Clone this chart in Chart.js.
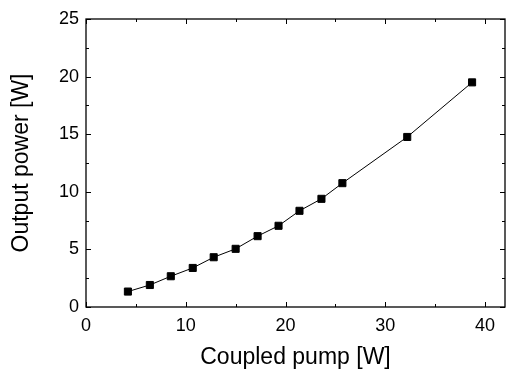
<!DOCTYPE html>
<html>
<head>
<meta charset="utf-8">
<script src="https://cdn.jsdelivr.net/npm/chart.js@4"></script>
<style>
  html, body { margin: 0; padding: 0; background: #fff; }
  #wrap { width: 506px; height: 373px; }
</style>
</head>
<body>
<div id="wrap"><canvas id="chart" width="506" height="373"></canvas></div>
<script>
// data
const pumpW = [4.2, 6.4, 8.5, 10.7, 12.8, 15.0, 17.2, 19.3, 21.4, 23.6, 25.7, 32.2, 38.7];
const outputW = [1.34, 1.91, 2.67, 3.39, 4.32, 5.05, 6.15, 7.05, 8.35, 9.39, 10.75, 14.76, 19.5];
const xTicks = [0, 10, 20, 30, 40];
const yTicks = [0, 5, 10, 15, 20, 25];

const font = "'Liberation Sans', Arial, sans-serif";

// inward ticks on all four sides plus the frame
const frameTicks = {
  id: "frameTicks",
  afterDraw(c) {
    const ctx = c.ctx, a = c.chartArea;
    const xs = c.scales.x, ys = c.scales.y;
    ctx.save();
    ctx.strokeStyle = "#000";
    ctx.lineWidth = 1.3;
    ctx.strokeRect(a.left, a.top, a.right - a.left, a.bottom - a.top);
    ctx.lineWidth = 1;
    ctx.beginPath();
    for (let v = 0; v <= 42; v += 5) {
      const px = Math.round(xs.getPixelForValue(v)) + 0.5;
      const len = v % 10 === 0 ? 5 : 3;
      ctx.moveTo(px, a.bottom); ctx.lineTo(px, a.bottom - len);
      ctx.moveTo(px, a.top); ctx.lineTo(px, a.top + len);
    }
    for (let v = 0; v <= 25; v += 2.5) {
      const py = Math.round(ys.getPixelForValue(v)) + 0.5;
      const len = v % 5 === 0 ? 5 : 3;
      ctx.moveTo(a.left, py); ctx.lineTo(a.left + len, py);
      ctx.moveTo(a.right, py); ctx.lineTo(a.right - len, py);
    }
    ctx.stroke();
    ctx.restore();
  }
};

new Chart(document.getElementById("chart"), {
  type: "scatter",
  data: {
    datasets: [{
      data: pumpW.map((x, i) => ({ x: x, y: outputW[i] })),
      showLine: true,
      borderColor: "#000",
      borderWidth: 1,
      backgroundColor: "#000",
      pointStyle: "rect",
      pointRadius: 5,
      pointHoverRadius: 5,
      tension: 0
    }]
  },
  options: {
    responsive: false,
    animation: false,
    layout: { autoPadding: false, padding: { top: 19, right: 1, left: 0, bottom: 0 } },
    plugins: { legend: { display: false }, tooltip: { enabled: false } },
    scales: {
      x: {
        type: "linear",
        min: 0, max: 42,
        afterBuildTicks: s => { s.ticks = xTicks.map(v => ({ value: v })); },
        afterFit: s => { s.height = 66; },
        grid: { display: false, drawTicks: false },
        border: { display: false },
        ticks: { color: "#000", font: { family: font, size: 18 }, padding: 8, maxRotation: 0 },
        title: { display: true, text: "Coupled pump [W]", color: "#000", font: { family: font, size: 23 }, padding: { top: 4, bottom: 2 } }
      },
      y: {
        type: "linear",
        min: 0, max: 25,
        afterBuildTicks: s => { s.ticks = yTicks.map(v => ({ value: v })); },
        afterFit: s => { s.width = 86; },
        grid: { display: false, drawTicks: false },
        border: { display: false },
        ticks: { color: "#000", font: { family: font, size: 18 }, padding: 7 },
        title: { display: true, text: "Output power [W]", color: "#000", font: { family: font, size: 23 }, padding: { top: 8, bottom: 4 } }
      }
    }
  },
  plugins: [frameTicks]
});
</script>
</body>
</html>
